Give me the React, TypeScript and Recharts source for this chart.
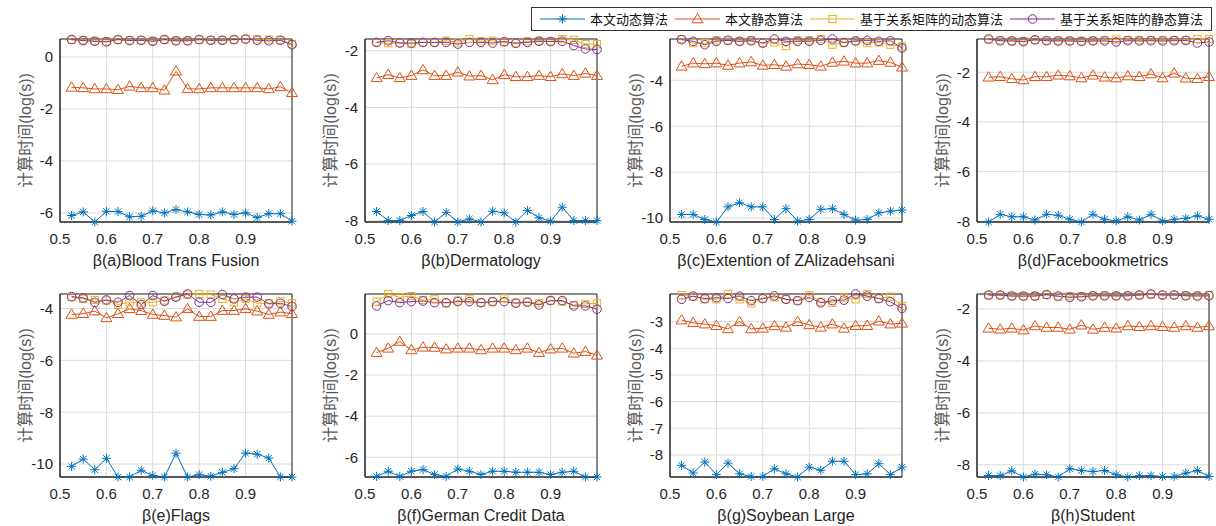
import { LineChart, Line, XAxis, YAxis, CartesianGrid, ReferenceArea } from "recharts";

// β values shared by every subplot
const BETA = [
  0.525, 0.55, 0.575, 0.6, 0.625, 0.65, 0.675, 0.7, 0.725, 0.75, 0.775, 0.8,
  0.825, 0.85, 0.875, 0.9, 0.925, 0.95, 0.975, 1.0,
];
const X_TICKS = [0.5, 0.6, 0.7, 0.8, 0.9];

const SERIES_NAMES = [
  "本文动态算法",
  "本文静态算法",
  "基于关系矩阵的动态算法",
  "基于关系矩阵的静态算法",
];
const COLORS = ["#0072BD", "#D95319", "#EDB120", "#7E2F8E"];

const TITLES = [
  "β(a)Blood Trans Fusion",
  "β(b)Dermatology",
  "β(c)Extention of ZAlizadehsani",
  "β(d)Facebookmetrics",
  "β(e)Flags",
  "β(f)German Credit Data",
  "β(g)Soybean Large",
  "β(h)Student",
];

const Y_TICKS = [
  [-6, -4, -2, 0],
  [-8, -6, -4, -2],
  [-10, -8, -6, -4],
  [-8, -6, -4, -2],
  [-10, -8, -6, -4],
  [-6, -4, -2, 0],
  [-8, -7, -6, -5, -4, -3],
  [-8, -6, -4, -2],
];

// (a) Blood Trans Fusion
const DYN_A = [-6.10, -5.96, -6.35, -5.94, -5.95, -6.15, -6.13, -5.92, -6.00, -5.87, -5.96, -6.06, -6.08, -5.96, -6.06, -6.00, -6.18, -6.03, -6.03, -6.32];
const STA_A = [-1.17, -1.19, -1.23, -1.23, -1.26, -1.13, -1.19, -1.19, -1.28, -0.55, -1.23, -1.23, -1.19, -1.19, -1.19, -1.19, -1.19, -1.23, -1.15, -1.38];
const RMDYN_A = [0.66, 0.64, 0.62, 0.60, 0.66, 0.64, 0.64, 0.62, 0.66, 0.63, 0.63, 0.66, 0.65, 0.65, 0.66, 0.68, 0.68, 0.67, 0.65, 0.50];
const RMSTA_A = [0.67, 0.63, 0.60, 0.58, 0.67, 0.63, 0.64, 0.60, 0.67, 0.62, 0.62, 0.67, 0.64, 0.64, 0.67, 0.69, 0.64, 0.62, 0.64, 0.47];

// (b) Dermatology
const DYN_B = [-7.67, -7.99, -7.99, -7.81, -7.67, -8.04, -7.70, -8.04, -7.93, -8.04, -7.66, -7.72, -8.04, -7.63, -7.89, -8.01, -7.52, -7.99, -7.99, -7.99];
const STA_B = [-2.96, -2.85, -2.96, -2.88, -2.68, -2.88, -2.88, -2.76, -2.90, -2.88, -3.03, -2.85, -2.92, -2.92, -2.88, -2.92, -2.82, -2.88, -2.80, -2.88];
const RMDYN_B = [-1.71, -1.74, -1.73, -1.77, -1.71, -1.71, -1.65, -1.71, -1.59, -1.67, -1.65, -1.71, -1.74, -1.67, -1.65, -1.67, -1.59, -1.62, -1.77, -1.77];
const RMSTA_B = [-1.71, -1.65, -1.73, -1.73, -1.71, -1.71, -1.71, -1.77, -1.71, -1.71, -1.73, -1.68, -1.74, -1.71, -1.67, -1.68, -1.67, -1.82, -1.94, -1.96];

// (c) Extention of ZAlizadehsani
const DYN_C = [-9.84, -9.84, -10.06, -10.17, -9.51, -9.33, -9.51, -9.51, -10.06, -9.59, -10.13, -10.06, -9.62, -9.59, -9.84, -10.09, -10.06, -9.77, -9.70, -9.65];
const STA_C = [-3.39, -3.25, -3.28, -3.25, -3.35, -3.25, -3.20, -3.35, -3.32, -3.39, -3.29, -3.32, -3.39, -3.22, -3.17, -3.25, -3.25, -3.14, -3.22, -3.43];
const RMDYN_C = [-2.20, -2.38, -2.38, -2.26, -2.26, -2.30, -2.26, -2.38, -2.35, -2.51, -2.26, -2.26, -2.20, -2.45, -2.35, -2.30, -2.38, -2.35, -2.45, -2.52];
const RMSTA_C = [-2.23, -2.30, -2.45, -2.30, -2.26, -2.30, -2.28, -2.38, -2.20, -2.30, -2.30, -2.30, -2.26, -2.20, -2.35, -2.28, -2.26, -2.30, -2.28, -2.59];

// (d) Facebookmetrics
const DYN_D = [-8.03, -7.72, -7.82, -7.82, -7.95, -7.72, -7.76, -7.92, -8.03, -7.72, -7.92, -7.99, -7.82, -7.95, -7.72, -7.99, -7.92, -7.88, -7.78, -7.92];
const STA_D = [-2.20, -2.18, -2.26, -2.31, -2.18, -2.18, -2.12, -2.15, -2.23, -2.12, -2.20, -2.23, -2.15, -2.18, -2.07, -2.23, -2.04, -2.24, -2.26, -2.18];
const RMDYN_D = [-0.68, -0.72, -0.73, -0.74, -0.70, -0.72, -0.72, -0.73, -0.73, -0.72, -0.70, -0.68, -0.70, -0.70, -0.70, -0.70, -0.70, -0.70, -0.66, -0.66];
const RMSTA_D = [-0.66, -0.73, -0.74, -0.77, -0.69, -0.73, -0.74, -0.74, -0.76, -0.74, -0.74, -0.78, -0.73, -0.74, -0.73, -0.74, -0.73, -0.72, -0.82, -0.78];

// (e) Flags
const DYN_E = [-10.09, -9.81, -10.22, -9.78, -10.50, -10.50, -10.24, -10.44, -10.50, -9.58, -10.50, -10.41, -10.47, -10.32, -10.18, -9.58, -9.62, -9.77, -10.50, -10.50];
const STA_E = [-4.23, -4.20, -4.10, -4.36, -4.20, -4.01, -4.08, -4.23, -4.27, -4.33, -4.01, -4.31, -4.31, -4.08, -4.08, -4.01, -4.10, -4.23, -4.14, -4.20];
const RMDYN_E = [-3.56, -3.63, -3.67, -3.69, -3.85, -3.76, -3.76, -3.76, -3.69, -3.54, -3.46, -3.44, -3.46, -3.63, -3.76, -3.63, -3.80, -3.80, -3.72, -3.80];
const RMSTA_E = [-3.54, -3.59, -3.76, -3.67, -3.76, -3.50, -3.85, -3.50, -3.72, -3.56, -3.44, -3.76, -3.76, -3.46, -3.63, -3.56, -3.56, -3.82, -3.80, -3.92];

// (f) German Credit Data
const DYN_F = [-6.93, -6.68, -6.93, -6.68, -6.60, -6.84, -6.93, -6.57, -6.68, -6.84, -6.68, -6.68, -6.73, -6.73, -6.73, -6.84, -6.73, -6.68, -6.96, -6.96];
const STA_F = [-0.91, -0.70, -0.37, -0.78, -0.65, -0.66, -0.74, -0.70, -0.70, -0.78, -0.70, -0.70, -0.78, -0.70, -0.91, -0.74, -0.70, -0.94, -0.86, -1.04];
const RMDYN_F = [1.57, 1.94, 1.78, 1.84, 1.65, 1.68, 1.49, 1.62, 1.68, 1.52, 1.57, 1.73, 1.52, 1.57, 1.49, 1.62, 1.57, 1.41, 1.46, 1.49];
const RMSTA_F = [1.36, 1.62, 1.52, 1.57, 1.60, 1.52, 1.52, 1.57, 1.57, 1.52, 1.57, 1.57, 1.49, 1.54, 1.41, 1.62, 1.62, 1.36, 1.36, 1.20];

// (g) Soybean Large
const DYN_G = [-8.39, -8.68, -8.27, -8.74, -8.31, -8.71, -8.81, -8.81, -8.52, -8.71, -8.83, -8.46, -8.58, -8.24, -8.24, -8.74, -8.71, -8.33, -8.74, -8.46];
const STA_G = [-2.94, -3.04, -3.09, -3.15, -3.27, -3.00, -3.27, -3.25, -3.16, -3.21, -3.00, -3.12, -3.21, -3.09, -3.25, -3.15, -3.15, -2.98, -3.09, -3.06];
const RMDYN_G = [-2.00, -2.06, -2.16, -2.16, -1.96, -2.16, -2.31, -2.13, -2.09, -2.16, -2.21, -2.00, -2.25, -2.29, -2.09, -2.16, -1.96, -2.13, -2.06, -2.41];
const RMSTA_G = [-2.16, -2.04, -2.13, -2.10, -2.13, -2.04, -2.21, -2.13, -2.03, -2.16, -2.21, -2.09, -2.29, -2.21, -2.19, -1.96, -2.04, -2.13, -2.25, -2.50];

// (h) Student
const DYN_H = [-8.41, -8.42, -8.23, -8.47, -8.36, -8.38, -8.47, -8.15, -8.22, -8.26, -8.22, -8.38, -8.47, -8.42, -8.42, -8.45, -8.45, -8.32, -8.22, -8.45];
const STA_H = [-2.74, -2.78, -2.74, -2.81, -2.65, -2.71, -2.71, -2.78, -2.62, -2.78, -2.71, -2.74, -2.65, -2.68, -2.65, -2.68, -2.71, -2.65, -2.71, -2.65];
const RMDYN_H = [-1.47, -1.47, -1.49, -1.50, -1.49, -1.46, -1.52, -1.50, -1.50, -1.48, -1.48, -1.50, -1.48, -1.47, -1.44, -1.46, -1.46, -1.48, -1.48, -1.46];
const RMSTA_H = [-1.46, -1.46, -1.50, -1.50, -1.50, -1.44, -1.50, -1.55, -1.53, -1.49, -1.49, -1.49, -1.49, -1.46, -1.42, -1.46, -1.46, -1.49, -1.50, -1.49];

const SETS = [
  [DYN_A, STA_A, RMDYN_A, RMSTA_A],
  [DYN_B, STA_B, RMDYN_B, RMSTA_B],
  [DYN_C, STA_C, RMDYN_C, RMSTA_C],
  [DYN_D, STA_D, RMDYN_D, RMSTA_D],
  [DYN_E, STA_E, RMDYN_E, RMSTA_E],
  [DYN_F, STA_F, RMDYN_F, RMSTA_F],
  [DYN_G, STA_G, RMDYN_G, RMSTA_G],
  [DYN_H, STA_H, RMDYN_H, RMSTA_H],
];

const KEYS = ["dyn", "sta", "rmDyn", "rmSta"];

// layout of the 2x4 grid (plot-area corners)
const COL_LEFT = [60, 365, 670, 977];
const ROW_TOP = [39, 294];
const PLOT_W = 232;
const PLOT_H = 183;
const Y_AXIS_W = 60;
const X_AXIS_H = 45;
const M_TOP = 10;
const M_RIGHT = 15;
const M_BOTTOM = 8;

const AXIS = "#262626";
const FONT = "'Liberation Sans', Arial, 'Noto Sans CJK SC', sans-serif";

type DotProps = { cx?: number; cy?: number };

function Asterisk({ cx, cy }: DotProps) {
  if (cx == null || cy == null) return null;
  const r = 4.5;
  const d = r * 0.7071;
  return (
    <g stroke={COLORS[0]} strokeWidth={1}>
      <line x1={cx} y1={cy - r} x2={cx} y2={cy + r} />
      <line x1={cx - r} y1={cy} x2={cx + r} y2={cy} />
      <line x1={cx - d} y1={cy - d} x2={cx + d} y2={cy + d} />
      <line x1={cx - d} y1={cy + d} x2={cx + d} y2={cy - d} />
    </g>
  );
}

function Triangle({ cx, cy }: DotProps) {
  if (cx == null || cy == null) return null;
  return (
    <polygon
      points={`${cx},${cy - 5.5} ${cx - 5.5},${cy + 3.8} ${cx + 5.5},${cy + 3.8}`}
      fill="none"
      stroke={COLORS[1]}
      strokeWidth={1}
    />
  );
}

function Square({ cx, cy }: DotProps) {
  if (cx == null || cy == null) return null;
  return (
    <rect x={cx - 3.6} y={cy - 3.6} width={7.2} height={7.2} fill="none" stroke={COLORS[2]} strokeWidth={1} />
  );
}

function Circle({ cx, cy }: DotProps) {
  if (cx == null || cy == null) return null;
  return <circle cx={cx} cy={cy} r={4.3} fill="none" stroke={COLORS[3]} strokeWidth={1} />;
}

const MARKERS = [Asterisk, Triangle, Square, Circle];

function Panel({ index }: { index: number }) {
  const series = SETS[index];
  const rows = BETA.map((beta, i) => ({
    beta,
    dyn: series[0][i],
    sta: series[1][i],
    rmDyn: series[2][i],
    rmSta: series[3][i],
  }));
  const all = series.flat();
  const yMin = Math.min(...all);
  const yMax = Math.max(...all);
  const left = COL_LEFT[index % 4];
  const top = ROW_TOP[Math.floor(index / 4)];

  return (
    <div style={{ position: "absolute", left: left - Y_AXIS_W, top: top - M_TOP }}>
      <LineChart
        width={Y_AXIS_W + PLOT_W + M_RIGHT}
        height={M_TOP + PLOT_H + X_AXIS_H + M_BOTTOM}
        data={rows}
        margin={{ top: M_TOP, right: M_RIGHT, bottom: M_BOTTOM, left: 0 }}
      >
        <CartesianGrid stroke="#dadada" strokeWidth={1} />
        <XAxis
          type="number"
          dataKey="beta"
          domain={[0.5, 1]}
          ticks={X_TICKS}
          height={X_AXIS_H}
          tickLine={false}
          tickMargin={5}
          axisLine={{ stroke: AXIS }}
          tick={{ fill: AXIS, fontSize: 15 }}
          label={{ value: TITLES[index], position: "insideBottom", offset: 1, fill: AXIS, fontSize: 16 }}
        />
        <YAxis
          type="number"
          domain={[yMin, yMax]}
          ticks={Y_TICKS[index]}
          width={Y_AXIS_W}
          tickLine={false}
          tickMargin={1}
          axisLine={{ stroke: AXIS }}
          tick={{ fill: AXIS, fontSize: 15 }}
          label={{
            value: "计算时间(log(s))",
            angle: -90,
            position: "insideLeft",
            offset: 25,
            style: { textAnchor: "middle", fill: "#595959", fontSize: 16 },
          }}
        />
        <ReferenceArea x1={0.5} x2={1} y1={yMin} y2={yMax} fill="none" stroke={AXIS} strokeWidth={1} />
        {KEYS.map((k, i) => (
          <Line
            key={k}
            dataKey={k}
            type="linear"
            stroke={COLORS[i]}
            strokeWidth={1}
            dot={MARKERS[i]}
            activeDot={false}
            isAnimationActive={false}
          />
        ))}
      </LineChart>
    </div>
  );
}

function LegendBox() {
  return (
    <div
      style={{
        position: "absolute",
        left: 531,
        top: 7,
        width: 681,
        height: 24,
        boxSizing: "border-box",
        border: "1px solid #333",
        background: "#fff",
        display: "flex",
        alignItems: "center",
        paddingLeft: 8,
        fontFamily: "'Noto Sans CJK SC', sans-serif",
        fontSize: 13,
        color: "#111",
        whiteSpace: "nowrap",
      }}
    >
      {SERIES_NAMES.map((name, i) => {
        const Marker = MARKERS[i];
        return (
          <div key={name} style={{ display: "flex", alignItems: "center", marginRight: 7 }}>
            <svg width={45} height={14} style={{ overflow: "visible" }}>
              <line x1={0} y1={7} x2={45} y2={7} stroke={COLORS[i]} strokeWidth={1} />
              <Marker cx={22.5} cy={7} />
            </svg>
            <span style={{ marginLeft: 5, lineHeight: "14px" }}>{name}</span>
          </div>
        );
      })}
    </div>
  );
}

export default function App() {
  return (
    <div
      style={{
        position: "absolute",
        left: 0,
        top: 0,
        width: 1216,
        height: 526,
        background: "#fff",
        fontFamily: FONT,
        overflow: "hidden",
      }}
    >
      {SETS.map((_, i) => (
        <Panel key={i} index={i} />
      ))}
      <LegendBox />
    </div>
  );
}
